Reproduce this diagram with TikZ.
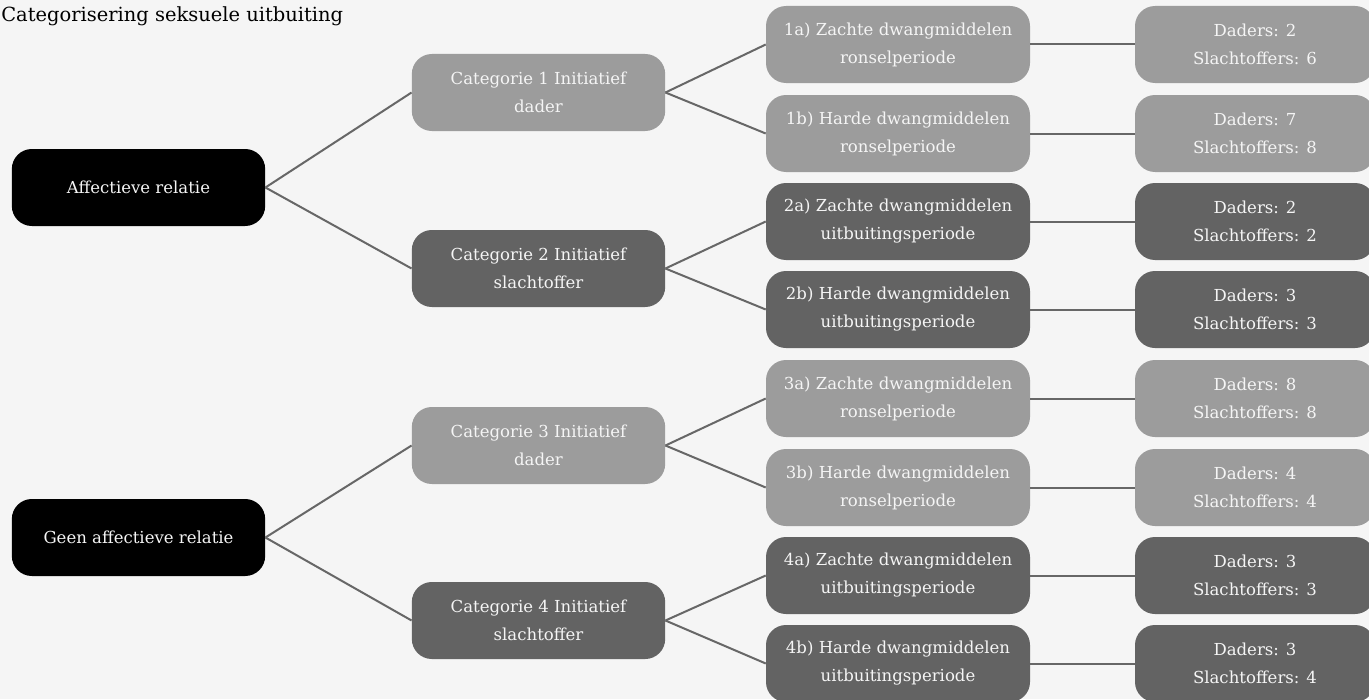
\documentclass[tikz,border=0pt]{standalone}
\usepackage{fontspec}
\setmainfont{DejaVu Serif}
\usetikzlibrary{positioning}
\definecolor{paper}{HTML}{F5F5F5}
\definecolor{pale}{HTML}{9C9C9C}
\definecolor{deep}{HTML}{636363}
\definecolor{wire}{HTML}{676767}
\tikzset{
  box/.style={rounded corners=15pt,align=center,text=paper,font=\fontsize{12.4}{21}\selectfont,minimum height=57.75pt,inner sep=2pt},
  rootbox/.style={box,fill=black,minimum width=190pt},
  catpale/.style={box,fill=pale,minimum width=190pt},
  catdeep/.style={box,fill=deep,minimum width=190pt},
  leafpale/.style={box,fill=pale,minimum width=198pt},
  leafdeep/.style={box,fill=deep,minimum width=198pt},
  cntpale/.style={box,fill=pale,minimum width=180pt},
  cntdeep/.style={box,fill=deep,minimum width=180pt},
  link/.style={draw=wire,line width=1.5pt},
}
\begin{document}
\begin{tikzpicture}[x=0.75pt,y=-0.75pt]
  \fill[paper] (0,0) rectangle (1369,699);
  \useasboundingbox (0,0) rectangle (1369,699);
  \node[anchor=west,font=\fontsize{14.6}{16}\selectfont,inner sep=0pt] (title) at (1,16) {Categorisering seksuele uitbuiting};
  % linkerkolom
  \node[rootbox] (r1) at (138.5,187.5) {Affectieve relatie};
  \node[rootbox] (r2) at (138.5,537.5) {Geen affectieve relatie};
  % categorieen
  \node[catpale] (c1) at (538.5,92.5) {Categorie 1 Initiatief\\dader};
  \node[catdeep] (c2) at (538.5,268.5) {Categorie 2 Initiatief\\slachtoffer};
  \node[catpale] (c3) at (538.5,445.5) {Categorie 3 Initiatief\\dader};
  \node[catdeep] (c4) at (538.5,620.5) {Categorie 4 Initiatief\\slachtoffer};
  % dwangmiddelen
  \node[leafpale] (l1a) at (898,44.5) {1a) Zachte dwangmiddelen\\ronselperiode};
  \node[leafpale] (l1b) at (898,133.5) {1b) Harde dwangmiddelen\\ronselperiode};
  \node[leafdeep] (l2a) at (898,221.5) {2a) Zachte dwangmiddelen\\uitbuitingsperiode};
  \node[leafdeep] (l2b) at (898,309.5) {2b) Harde dwangmiddelen\\uitbuitingsperiode};
  \node[leafpale] (l3a) at (898,398.5) {3a) Zachte dwangmiddelen\\ronselperiode};
  \node[leafpale] (l3b) at (898,487.5) {3b) Harde dwangmiddelen\\ronselperiode};
  \node[leafdeep] (l4a) at (898,575.5) {4a) Zachte dwangmiddelen\\uitbuitingsperiode};
  \node[leafdeep] (l4b) at (898,663.5) {4b) Harde dwangmiddelen\\uitbuitingsperiode};
  % aantallen
  \node[cntpale] (n1a) at (1255,44.5) {Daders: 2\\Slachtoffers: 6};
  \node[cntpale] (n1b) at (1255,133.5) {Daders: 7\\Slachtoffers: 8};
  \node[cntdeep] (n2a) at (1255,221.5) {Daders: 2\\Slachtoffers: 2};
  \node[cntdeep] (n2b) at (1255,309.5) {Daders: 3\\Slachtoffers: 3};
  \node[cntpale] (n3a) at (1255,398.5) {Daders: 8\\Slachtoffers: 8};
  \node[cntpale] (n3b) at (1255,487.5) {Daders: 4\\Slachtoffers: 4};
  \node[cntdeep] (n4a) at (1255,575.5) {Daders: 3\\Slachtoffers: 3};
  \node[cntdeep] (n4b) at (1255,663.5) {Daders: 3\\Slachtoffers: 4};
  \foreach \a/\b in {r1/c1,r1/c2,r2/c3,r2/c4,c1/l1a,c1/l1b,c2/l2a,c2/l2b,c3/l3a,c3/l3b,c4/l4a,c4/l4b,l1a/n1a,l1b/n1b,l2a/n2a,l2b/n2b,l3a/n3a,l3b/n3b,l4a/n4a,l4b/n4b}{\draw[link] (\a.east) -- (\b.west);}
\end{tikzpicture}
\end{document}
